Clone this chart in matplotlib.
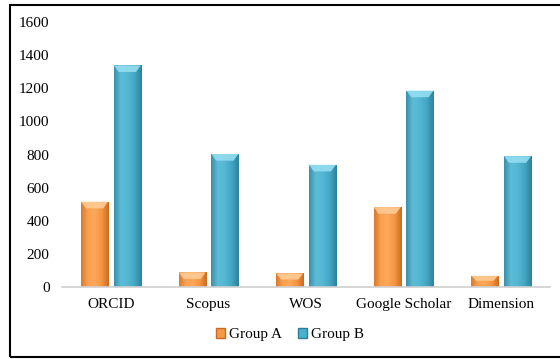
import numpy as np
import matplotlib.pyplot as plt
from matplotlib.patches import Rectangle, Patch, Polygon
from matplotlib.colors import LinearSegmentedColormap

plt.rcParams['font.family'] = ['Liberation Serif', 'DejaVu Serif']

categories = ["ORCID", "Scopus", "WOS", "Google Scholar", "Dimension"]
group_a = [515, 88, 82, 482, 68]
group_b = [1338, 803, 738, 1186, 790]
series_names = ["Group A", "Group B"]
yticks = [0, 200, 400, 600, 800, 1000, 1200, 1400, 1600]

orange_cmap = LinearSegmentedColormap.from_list(
    "orange", ["#D9782C", "#FBA250", "#FCA75A", "#F39440", "#C96A22"])
blue_cmap = LinearSegmentedColormap.from_list(
    "blue", ["#3A8FAA", "#5DBCD6", "#54B6D2", "#42A6C2", "#2E7F99"])
top_colors = ["#FFCB94", "#93DDF0"]

fig = plt.figure(figsize=(5.6, 3.59), dpi=100)
ax = fig.add_axes([0.111, 0.2006, 0.871, 0.738])

x = np.arange(len(categories))
width = 0.277
offset = 0.168
grad = np.linspace(0, 1, 256).reshape(1, -1)

for vals, sign, cmap, topc in [(group_a, -1, orange_cmap, top_colors[0]),
                               (group_b, 1, blue_cmap, top_colors[1])]:
    bars = ax.bar(x + sign * offset, vals, width, color="none", edgecolor="none", zorder=2)
    for b in bars:
        x0, w, h = b.get_x(), b.get_width(), b.get_height()
        im = ax.imshow(grad, cmap=cmap, aspect="auto", extent=(x0, x0 + w, 0, h),
                       zorder=2, interpolation="bicubic")
        im.set_clip_path(b)
        cap = min(40, h * 0.45)
        ax.add_patch(Polygon([(x0, h), (x0 + w, h), (x0 + w * 0.82, h - cap),
                              (x0 + w * 0.18, h - cap)], closed=True,
                             facecolor=topc, edgecolor="none", alpha=0.9, zorder=3))

ax.set_xlim(-0.5, len(categories) - 0.5)
ax.set_ylim(0, 1600)
ax.set_yticks(yticks)
ax.set_xticks(x)
ax.set_xticklabels(categories, fontsize=11)
ax.tick_params(axis="y", length=0, pad=9, labelsize=11)
ax.tick_params(axis="x", length=0, pad=8)
for s in ["top", "right", "left"]:
    ax.spines[s].set_visible(False)
ax.spines["bottom"].set_color("#D0D0D0")
ax.spines["bottom"].set_linewidth(1.2)

handles = [Patch(facecolor="#F39A45", edgecolor="#C96A22"),
           Patch(facecolor="#4BB0CC", edgecolor="#2E7F99")]
fig.legend(handles, series_names, loc="center", bbox_to_anchor=(0.518, 0.067),
           ncol=2, frameon=False, fontsize=11, handlelength=0.55, handleheight=0.55,
           handletextpad=0.25, columnspacing=1.1)

fig.patches.append(Rectangle((9.5 / 560, 1.7 / 359), 1.2, 352.8 / 359,
                             transform=fig.transFigure, fill=False,
                             edgecolor="black", linewidth=1.5))

fig.savefig("out.png", dpi=100)
